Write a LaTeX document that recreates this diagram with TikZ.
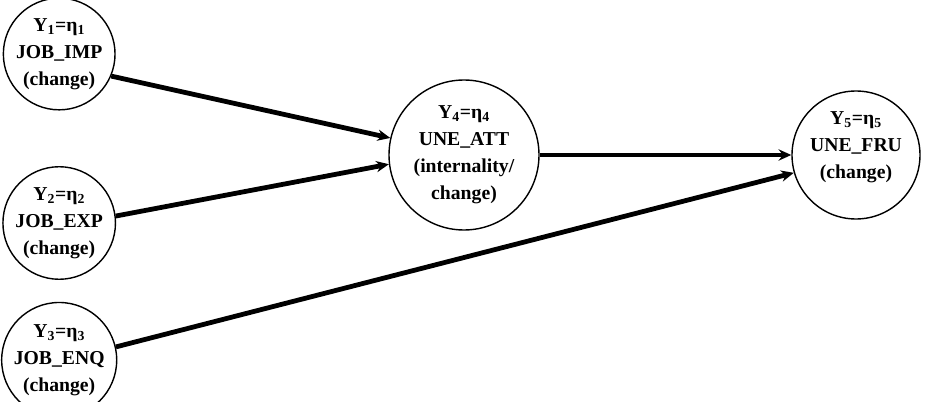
\documentclass[tikz,border=0pt]{standalone}
\usepackage{fontspec}
\setmainfont{Liberation Serif}
\usepackage{tikz}
\usetikzlibrary{arrows.meta,positioning}

\begin{document}
\begin{tikzpicture}[>={Stealth[length=9pt,width=8pt]},
  var/.style={draw,circle,line width=1pt,inner sep=0pt,align=center,
    font=\fontsize{14}{19.2}\selectfont\bfseries},
  effect/.style={->,line width=3.4pt}]
\useasboundingbox (0,0) rectangle (23.175,-10.05);
\foreach \i/\y/\lab in {1/-1.35/IMP,2/-5.575/EXP,3/-9.0/ENQ}
  {\node[var,minimum size=2.55cm] (n\i) at (1.48,\y)
     {Y\textsubscript{\i}=η\textsubscript{\i}\\JOB\_\lab\\(change)};}
\node[var,minimum size=3.75cm] (n4) at (11.6,-3.875)
  {Y\textsubscript{4}=η\textsubscript{4}\\UNE\_ATT\\(internality/\\change)};
\node[var,minimum size=3.2cm] (n5) at (21.4,-3.875)
  {Y\textsubscript{5}=η\textsubscript{5}\\UNE\_FRU\\(change)\\[-5pt]};
\draw[effect] (n1.-23)--(n4.167);
\draw[effect] (n2.7)--(n4.187);
\draw[effect] (n3.13)--(n5.196);
\draw[effect] (n4.east)--(n5.west);
\end{tikzpicture}
\end{document}
